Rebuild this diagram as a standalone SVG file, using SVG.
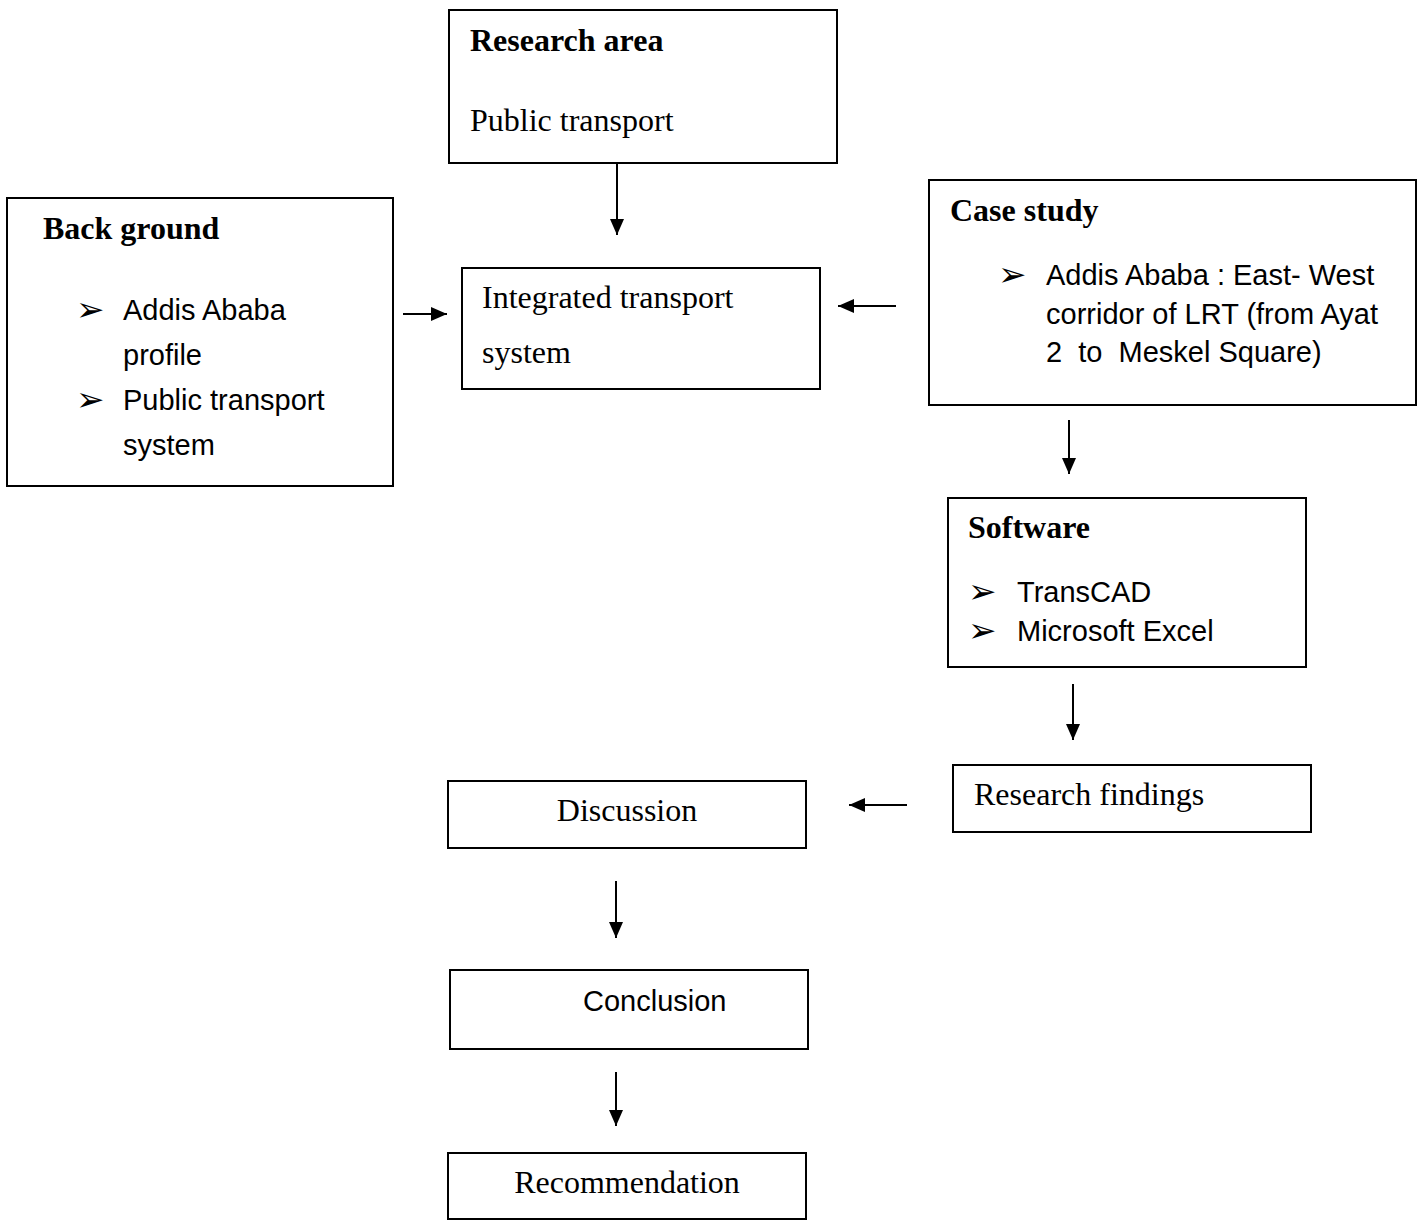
<svg xmlns="http://www.w3.org/2000/svg" width="1424" height="1220" viewBox="0 0 1424 1220">
<style>
.box{fill:#fff;stroke:#000;stroke-width:2}
.ser{font-family:"Liberation Serif","Times New Roman",serif;font-size:32px;fill:#000}
.bold{font-weight:bold}
.sans{font-family:"Liberation Sans",Arial,sans-serif;font-size:29px;fill:#000}
.bul{font-family:"DejaVu Sans",sans-serif;font-size:34px;fill:#000}
.conn{stroke:#000;stroke-width:2;fill:none;marker-end:url(#ah)}
</style>
<defs>
<marker id="ah" markerWidth="16" markerHeight="14" refX="16" refY="7" orient="auto" markerUnits="userSpaceOnUse">
<path d="M0,0 L16,7 L0,14 Z" fill="#000"/>
</marker>
</defs>
<rect width="1424" height="1220" fill="#fff"/>
<g id="research-area">
<rect class="box" x="449" y="10" width="388" height="153"/>
<text class="ser bold" x="470" y="51">Research area</text>
<text class="ser" x="470" y="131">Public transport</text>
</g>
<g id="background">
<rect class="box" x="7" y="198" width="386" height="288"/>
<text class="ser bold" x="43" y="239">Back ground</text>
<text class="bul" x="76" y="321">➢</text>
<text class="sans" x="123" y="320">Addis Ababa</text>
<text class="sans" x="123" y="365">profile</text>
<text class="bul" x="76" y="411">➢</text>
<text class="sans" x="123" y="410">Public transport</text>
<text class="sans" x="123" y="455">system</text>
</g>
<g id="integrated">
<rect class="box" x="462" y="268" width="358" height="121"/>
<text class="ser" x="482" y="308">Integrated transport</text>
<text class="ser" x="482" y="363">system</text>
</g>
<g id="case-study">
<rect class="box" x="929" y="180" width="487" height="225"/>
<text class="ser bold" x="950" y="221">Case study</text>
<text class="bul" x="998" y="286">➢</text>
<text class="sans" x="1046" y="285">Addis Ababa : East- West</text>
<text class="sans" x="1046" y="324">corridor of LRT (from Ayat</text>
<text class="sans" x="1046" y="362" xml:space="preserve">2  to  Meskel Square)</text>
</g>
<g id="software">
<rect class="box" x="948" y="498" width="358" height="169"/>
<text class="ser bold" x="968" y="538">Software</text>
<text class="bul" x="968" y="603">➢</text>
<text class="sans" x="1017" y="602">TransCAD</text>
<text class="bul" x="968" y="642">➢</text>
<text class="sans" x="1017" y="641">Microsoft Excel</text>
</g>
<g id="findings">
<rect class="box" x="953" y="765" width="358" height="67"/>
<text class="ser" x="974" y="805">Research findings</text>
</g>
<g id="discussion">
<rect class="box" x="448" y="781" width="358" height="67"/>
<text class="ser" x="627" y="821" text-anchor="middle">Discussion</text>
</g>
<g id="conclusion">
<rect class="box" x="450" y="970" width="358" height="79"/>
<text class="sans" x="583" y="1011">Conclusion</text>
</g>
<g id="recommendation">
<rect class="box" x="448" y="1153" width="358" height="66"/>
<text class="ser" x="627" y="1193" text-anchor="middle">Recommendation</text>
</g>
<g id="connectors">
<line class="conn" x1="617" y1="163" x2="617" y2="235"/>
<line class="conn" x1="403" y1="314" x2="447" y2="314"/>
<line class="conn" x1="896" y1="306" x2="838" y2="306"/>
<line class="conn" x1="1069" y1="420" x2="1069" y2="474"/>
<line class="conn" x1="1073" y1="684" x2="1073" y2="740"/>
<line class="conn" x1="907" y1="805" x2="849" y2="805"/>
<line class="conn" x1="616" y1="881" x2="616" y2="938"/>
<line class="conn" x1="616" y1="1072" x2="616" y2="1126"/>
</g>
</svg>
